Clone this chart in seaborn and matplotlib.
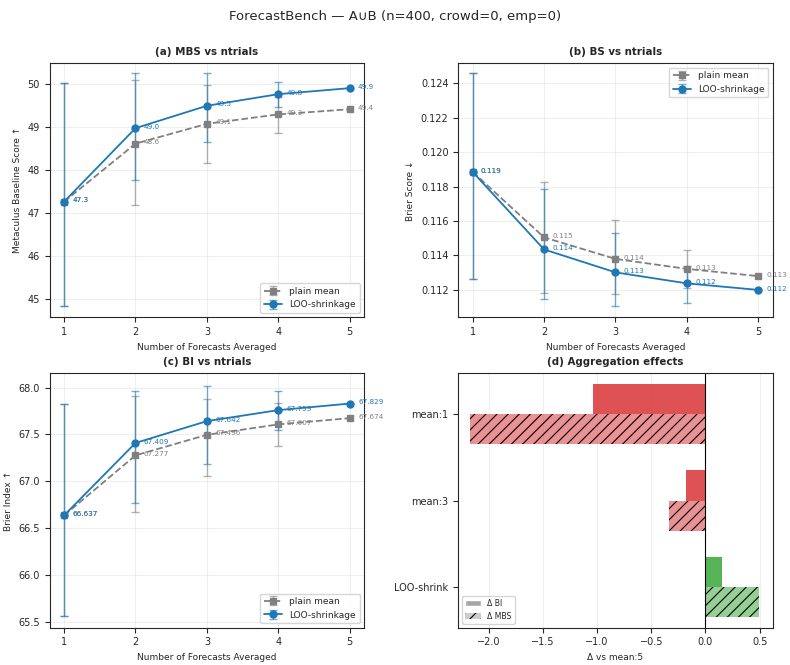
import numpy as np
import pandas as pd
import matplotlib
matplotlib.use("Agg")
import matplotlib.pyplot as plt
from matplotlib.patches import Patch
from matplotlib.colors import to_rgba
import seaborn as sns

# ---------------- data ----------------
ntrials = [1, 2, 3, 4, 5]

mbs_plain = [47.27, 48.62, 49.08, 49.30, 49.42]
mbs_plain_lo = [44.84, 47.20, 48.18, 48.87, np.nan]
mbs_plain_hi = [50.02, 50.09, 49.98, 49.71, np.nan]
mbs_loo = [47.27, 48.98, 49.50, 49.77, 49.91]
mbs_loo_lo = [44.84, 47.78, 48.66, 49.46, np.nan]
mbs_loo_hi = [50.02, 50.26, 50.26, 50.05, np.nan]

bs_plain = [0.11885, 0.11505, 0.11380, 0.11322, 0.11280]
bs_plain_lo = [0.11263, 0.11182, 0.11176, 0.11210, np.nan]
bs_plain_hi = [0.12457, 0.11826, 0.11603, 0.11432, np.nan]
bs_loo = [0.11885, 0.11435, 0.11302, 0.11238, 0.11200]
bs_loo_lo = [0.11263, 0.11150, 0.11108, 0.11124, np.nan]
bs_loo_hi = [0.12457, 0.11783, 0.11529, 0.11341, np.nan]

bi_plain = [66.637, 67.277, 67.496, 67.607, 67.674]
bi_plain_lo = [65.56, 66.675, 67.06, 67.375, np.nan]
bi_plain_hi = [67.823, 67.912, 67.876, 67.83, np.nan]
bi_loo = [66.637, 67.409, 67.642, 67.759, 67.829]
bi_loo_lo = [65.56, 66.77, 67.19, 67.545, np.nan]
bi_loo_hi = [67.823, 67.965, 68.018, 67.968, np.nan]

agg_methods = ["mean:1", "mean:3", "LOO-shrink"]
delta_bi = [-1.037, -0.178, 0.155]
delta_mbs = [-2.17, -0.34, 0.49]

# ---------------- style ----------------
sns.set_style("ticks")
plt.rcParams["font.family"] = ["DejaVu Sans"]
plt.rcParams["hatch.linewidth"] = 0.8

C_BLUE = "#1f77b4"
C_GRAY = "gray"

fig, axes = plt.subplots(2, 2, figsize=(7.9, 6.65), dpi=100)
fig.subplots_adjust(left=0.063, right=0.978, top=0.905, bottom=0.056,
                    wspace=0.30, hspace=0.22)


def series_panel(ax, plain, plo, phi, loo, llo, lhi, fmt, title, ylabel, legloc):
    x = np.array(ntrials, dtype=float)
    for y, lo, hi, color, marker, ls, label in [
        (plain, plo, phi, C_GRAY, "s", "--", "plain mean"),
        (loo, llo, lhi, C_BLUE, "o", "-", "LOO-shrinkage"),
    ]:
        y = np.array(y); lo = np.array(lo); hi = np.array(hi)
        yerr = np.vstack([y - lo, hi - y])
        cont = ax.errorbar(x, y, yerr=yerr, color=color, marker=marker, ls=ls,
                           lw=1.3, ms=5, capsize=3, elinewidth=1, label=label)
        for c in cont[1]:
            c.set_alpha(0.6)
        for c in cont[2]:
            c.set_alpha(0.6)
    for y, color in [(plain, C_GRAY), (loo, C_BLUE)]:
        for xi, yi in zip(ntrials, y):
            ax.annotate(format(yi, fmt), (xi, yi), xytext=(6, 1),
                        textcoords="offset points", fontsize=5.2,
                        color=color, va="center", ha="left")
    ax.set_title(title, fontsize=7.4, fontweight="bold")
    ax.set_xlabel("Number of Forecasts Averaged", fontsize=6.5)
    ax.set_ylabel(ylabel, fontsize=6.5)
    ax.set_xticks(ntrials)
    ax.tick_params(labelsize=7)
    ax.grid(True, alpha=0.3)
    ax.legend(loc=legloc, fontsize=6.5)


ax = axes[0, 0]
series_panel(ax, mbs_plain, mbs_plain_lo, mbs_plain_hi, mbs_loo, mbs_loo_lo,
             mbs_loo_hi, ".1f", "(a) MBS vs ntrials",
             "Metaculus Baseline Score ↑", "lower right")
ax.set_ylim(44.58, 50.49)

ax = axes[0, 1]
series_panel(ax, bs_plain, bs_plain_lo, bs_plain_hi, bs_loo, bs_loo_lo,
             bs_loo_hi, ".3f", "(b) BS vs ntrials", "Brier Score ↓",
             "upper right")
ax.set_ylim(0.1104, 0.12516)

ax = axes[1, 0]
series_panel(ax, bi_plain, bi_plain_lo, bi_plain_hi, bi_loo, bi_loo_lo,
             bi_loo_hi, ".3f", "(c) BI vs ntrials", "Brier Index ↑",
             "lower right")
ax.set_ylim(65.44, 68.15)

# ---------------- panel (d) ----------------
ax = axes[1, 1]
df = pd.DataFrame({
    "method": agg_methods * 2,
    "delta": delta_bi + delta_mbs,
    "metric": ["Δ BI"] * 3 + ["Δ MBS"] * 3,
})
sns.barplot(data=df, y="method", x="delta", hue="metric", orient="h",
            order=agg_methods, hue_order=["Δ BI", "Δ MBS"], width=0.7,
            ax=ax, legend=False, errorbar=None)
for i, p in enumerate(ax.patches):
    metric_idx = i // 3
    val = p.get_width()
    base = "#d62728" if val < 0 else "#2ca02c"
    if metric_idx == 0:
        p.set_facecolor(to_rgba(base, 0.8))
        p.set_edgecolor("none")
    else:
        p.set_facecolor(to_rgba(base, 0.5))
        p.set_hatch("///")
        p.set_edgecolor("black")
        p.set_linewidth(0)
ax.axvline(0, color="black", lw=0.8)
ax.set_ylim(2.47, -0.47)
ax.set_xlim(-2.28, 0.62)
ax.set_ylabel("")
ax.set_xlabel("Δ vs mean:5", fontsize=6.5)
ax.set_title("(d) Aggregation effects", fontsize=7.4, fontweight="bold")
ax.tick_params(labelsize=7)
ax.grid(True, axis="x", alpha=0.3)
ax.set_axisbelow(True)
handles = [Patch(facecolor=to_rgba("gray", 0.7), label="Δ BI"),
           Patch(facecolor=to_rgba("gray", 0.4), edgecolor="black",
                 linewidth=0, hatch="///", label="Δ MBS")]
ax.legend(handles=handles, loc="lower left", fontsize=5.6)

fig.suptitle("ForecastBench — A∪B (n=400, crowd=0, emp=0)", fontsize=9.5,
             y=0.985)

fig.savefig("out.png", dpi=100)
